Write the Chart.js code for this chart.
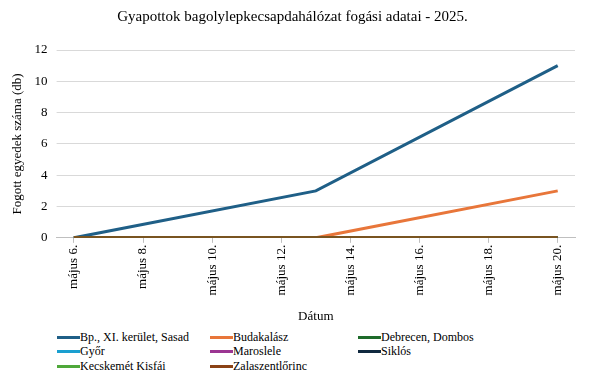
<!DOCTYPE html>
<html>
<head>
<meta charset="utf-8">
<script src="https://cdn.jsdelivr.net/npm/chart.js@4"></script>
<style>
  body { margin: 0; background: #fff; font-family: 'Liberation Serif', 'Times New Roman', serif; }
  #wrap { width: 599px; height: 375px; position: relative; }
  #grafico { display: block; }
  #legenda { position: absolute; left: 57px; top: 330px; display: grid; grid-template-columns: 153px 148px 200px; }
  .item { display: flex; align-items: center; font-size: 12px; height: 14.5px; color: #000; white-space: nowrap; font-family: 'Liberation Serif', serif; }
  .item span.linha { display: inline-block; width: 23px; height: 3px; margin-right: 0; }
</style>
</head>
<body>
<div id="wrap">
  <canvas id="grafico" width="599" height="328"></canvas>
  <div id="legenda"></div>
</div>
<script>
// napok a tengelyen
const napok = ['május 6.', 'május 7.', 'május 8.', 'május 9.', 'május 10.', 'május 11.', 'május 12.',
  'május 13.', 'május 14.', 'május 15.', 'május 16.', 'május 17.', 'május 18.', 'május 19.', 'május 20.'];

// fogási dátumok
const fogasNapok = ['május 6.', 'május 13.', 'május 20.'];

const helyek = ['Bp., XI. kerület, Sasad', 'Budakalász', 'Debrecen, Dombos', 'Győr', 'Maroslele',
  'Siklós', 'Kecskemét Kisfái', 'Zalaszentlőrinc'];

const sasad = [0, 3, 11];
const budakalasz = [0, 0, 3];
const debrecen = [0, 0, 0];
const gyor = [0, 0, 0];
const maroslele = [0, 0, 0];
const siklos = [0, 0, 0];
const kecskemet = [0, 0, 0];
const zalaszentlorinc = [0, 0, 0];

const yTicks = [0, 2, 4, 6, 8, 10, 12];

const szinek = ['#1f5f87', '#e8763a', '#1e6b2a', '#1a9fd0', '#9b3592', '#10293f', '#4fa83a', '#8b4216'];
const sorozatok = [sasad, budakalasz, debrecen, gyor, maroslele, siklos, kecskemet, zalaszentlorinc];

const betu = "'Liberation Serif', 'Times New Roman', serif";

const datasets = helyek.map((nev, i) => ({
  label: nev,
  data: sorozatok[i].map((v, j) => ({ x: fogasNapok[j], y: v })),
  borderColor: szinek[i],
  backgroundColor: szinek[i],
  borderWidth: 3,
  pointRadius: 0,
  tension: 0,
  order: helyek.length - i
}));

const ctx = document.getElementById('grafico');

const chart = new Chart(ctx, {
  type: 'line',
  data: { labels: napok, datasets: datasets },
  options: {
    responsive: false,
    animation: false,
    layout: { padding: { left: 10, right: 24, top: 0, bottom: 0 } },
    plugins: {
      legend: { display: false },
      tooltip: { enabled: false },
      title: {
        display: true,
        text: 'Gyapottok bagolylepkecsapdahálózat fogási adatai - 2025.',
        color: '#000',
        font: { family: betu, size: 15, weight: 'normal' },
        padding: { top: 8, bottom: 24 }
      }
    },
    scales: {
      x: {
        type: 'category',
        offset: true,
        border: { color: '#bfbfbf' },
        grid: {
          drawOnChartArea: false,
          tickLength: 5,
          color: c => (c.index % 2 === 0 ? '#bfbfbf' : 'transparent')
        },
        ticks: {
          autoSkip: false,
          minRotation: 90,
          maxRotation: 90,
          color: '#000',
          padding: 2,
          font: { family: betu, size: 13 },
          callback: (v, i) => (i % 2 === 0 ? napok[i] : '')
        },
        title: {
          display: true,
          text: 'Dátum',
          color: '#000',
          font: { family: betu, size: 13 },
          padding: { top: 11, bottom: 4 }
        }
      },
      y: {
        min: 0,
        max: 12,
        afterBuildTicks: axis => { axis.ticks = yTicks.map(v => ({ value: v })); },
        border: { display: false },
        grid: { color: '#d9d9d9', tickLength: 0 },
        ticks: {
          color: '#000',
          padding: 9,
          font: { family: betu, size: 13 }
        },
        title: {
          display: true,
          text: 'Fogott egyedek száma (db)',
          color: '#000',
          font: { family: betu, size: 13, weight: 'normal' },
          padding: { top: 0, bottom: 0 }
        }
      }
    }
  }
});

// legenda html-ben, három oszlopban
const legenda = document.getElementById('legenda');
let html = '';
chart.data.datasets.forEach(ds => {
  html += `<div class="item"><span class="linha" style="background:${ds.borderColor}"></span>${ds.label}</div>`;
});
legenda.innerHTML = html;
</script>
</body>
</html>
